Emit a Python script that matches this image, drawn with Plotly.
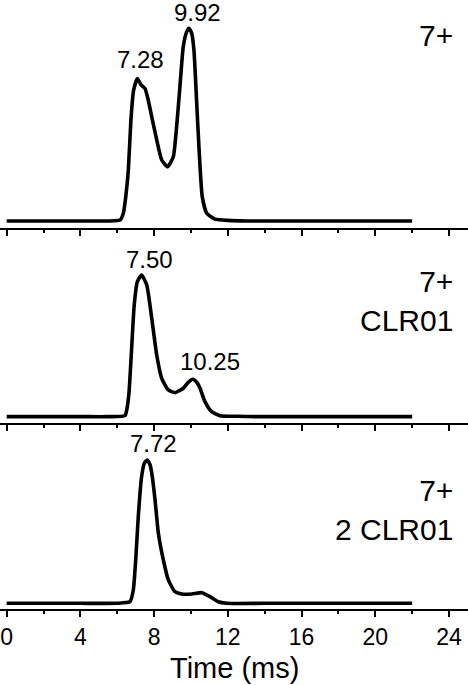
import plotly.graph_objects as go

# ---------------- data ----------------
time_a = [0, 2, 4, 5.5, 6.15, 6.33, 6.46, 6.60, 6.74, 6.89, 7.09, 7.29, 7.50, 7.68, 7.87,
          8.14, 8.41, 8.73, 9.04, 9.22, 9.40, 9.58, 9.77, 9.89, 10.04, 10.16, 10.31, 10.45,
          10.61, 10.85, 11.30, 12.0, 13.0, 16, 19, 22]
int_a = [0, 0, 0, 0, 0.5, 4, 12.6, 26.4, 52.3, 67.9, 73.8, 70.5, 68.7, 62.7, 54,
         42, 31.6, 28.1, 33.3, 48.9, 69.6, 90.3, 98.1, 99.8, 97.2, 88.6, 61, 35,
         12.6, 4, 1, 0.3, 0, 0, 0, 0]

time_b = [0, 2, 4, 5.5, 6.42, 6.53, 6.64, 6.78, 6.92, 7.09, 7.32, 7.60, 7.87, 8.14, 8.41,
          8.77, 9.13, 9.58, 9.85, 10.09, 10.31, 10.49, 10.76, 11.12, 11.57, 12.5, 13.5,
          16, 19, 22]
int_b = [0, 0, 0, 0, 0.7, 5.9, 17.6, 48.2, 78.7, 95.1, 99.8, 92.7, 69.3, 43.4, 27,
         18.8, 16.9, 20, 24.2, 26.3, 24.2, 20, 10.6, 3.5, 0.7, 0.3, 0,
         0, 0, 0]

time_c = [0, 2, 4, 6, 6.69, 6.87, 7.00, 7.14, 7.32, 7.47, 7.63, 7.78, 7.90, 8.05, 8.23,
          8.50, 8.77, 9.13, 9.50, 10.04, 10.58, 11.03, 11.48, 11.94, 14, 17, 20, 22]
int_c = [0, 0, 0, 0, 1.1, 9.3, 30.2, 60.4, 88.3, 97.7, 100, 96.5, 88.3, 72.1, 48.8,
         30.2, 16.3, 8.1, 6.5, 6.5, 7.4, 4.6, 1.1, 0, 0, 0, 0, 0]

peak_labels_a = ["7.28", "9.92"]
peak_labels_b = ["7.50", "10.25"]
peak_labels_c = ["7.72"]
panel_labels = ["7+", "7+<br>CLR01", "7+<br>2 CLR01"]
x_tick_vals = [0, 4, 8, 12, 16, 20, 24]
x_tick_text = ["0", "4", "8", "12", "16", "20", "24"]
x_title = "Time (ms)"

# ---------------- figure ----------------
FONT = "Arial, Liberation Sans, sans-serif"
line_style = dict(color="black", width=3.6, shape="spline", smoothing=0.5)

fig = go.Figure()
fig.add_trace(go.Scatter(x=time_a, y=int_a, mode="lines", line=line_style,
                         xaxis="x", yaxis="y", showlegend=False))
fig.add_trace(go.Scatter(x=time_b, y=int_b, mode="lines", line=line_style,
                         xaxis="x2", yaxis="y2", showlegend=False))
fig.add_trace(go.Scatter(x=time_c, y=int_c, mode="lines", line=line_style,
                         xaxis="x3", yaxis="y3", showlegend=False))

xr = [-0.363, 25.03]
def xax(anchor, labels):
    return dict(domain=[0, 1], anchor=anchor, range=xr, showline=True, linecolor="black",
                linewidth=2, ticks="outside", ticklen=6, tickwidth=2, tickcolor="black",
                tickvals=x_tick_vals, ticktext=x_tick_text, showticklabels=labels,
                tickfont=dict(family=FONT, size=23, color="black"),
                minor=dict(dtick=2, tick0=0, ticks="outside", ticklen=3, tickwidth=2,
                           tickcolor="black", showgrid=False),
                showgrid=False, zeroline=False, fixedrange=True)

def yax(dom, rng):
    return dict(domain=dom, range=rng, visible=False, showgrid=False, zeroline=False)

fig.update_layout(
    width=468, height=685,
    margin=dict(l=0, r=0, t=0, b=76),
    paper_bgcolor="white", plot_bgcolor="white",
    xaxis=xax("y", False), xaxis2=xax("y2", False), xaxis3=xax("y3", True),
    yaxis=yax([0.6256, 1.0], [-3.63, 114.5]),
    yaxis2=yax([0.305, 0.6256], [-4.65, 132.9]),
    yaxis3=yax([0.0, 0.305], [-3.98, 125.6]),
)

ann = []
def peak(text, x, y, xref, yref):
    ann.append(dict(text=text, x=x, y=y, xref=xref, yref=yref, showarrow=False,
                    xanchor="center", yanchor="middle",
                    font=dict(family=FONT, size=24, color="black")))

peak(peak_labels_a[0], 7.26, 83.9, "x", "y")
peak(peak_labels_a[1], 10.33, 107.8, "x", "y")
peak(peak_labels_b[0], 7.74, 110.8, "x2", "y2")
peak(peak_labels_b[1], 11.01, 38.7, "x2", "y2")
peak(peak_labels_c[0], 7.95, 111.7, "x3", "y3")

for text, yp in zip(panel_labels, [0.941, 0.506, 0.1626]):
    ann.append(dict(text=text, x=0.972, y=yp, xref="paper", yref="paper", showarrow=False,
                    xanchor="right", yanchor="middle", align="right",
                    font=dict(family=FONT, size=30, color="black")))

ann.append(dict(text=x_title, x=0.502, y=-0.097, xref="paper", yref="paper", showarrow=False,
                xanchor="center", yanchor="middle",
                font=dict(family=FONT, size=29, color="black")))

fig.update_layout(annotations=ann)
fig.write_html("out.html", config={"displayModeBar": False},
               post_script="document.body.style.margin='0';document.body.style.overflow='hidden';")
